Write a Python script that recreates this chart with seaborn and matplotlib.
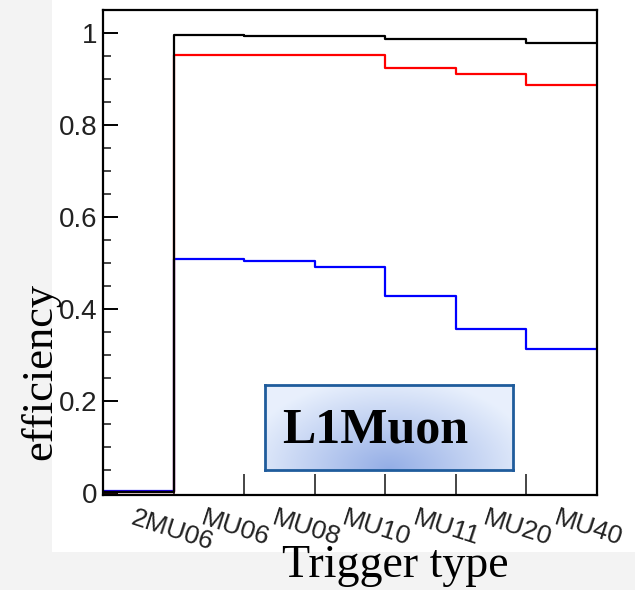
import numpy as np
import pandas as pd
import matplotlib
matplotlib.use("Agg")
import matplotlib.pyplot as plt
import matplotlib.transforms as mtrans
import seaborn as sns
from matplotlib.patches import Rectangle

# ---- data ----
triggers = ["2MU06", "MU06", "MU08", "MU10", "MU11", "MU20", "MU40"]
eff_black = [0.002, 0.996, 0.993, 0.993, 0.987, 0.987, 0.978]
eff_red = [0.003, 0.953, 0.953, 0.953, 0.925, 0.912, 0.887]
eff_blue = [0.005, 0.509, 0.504, 0.491, 0.428, 0.357, 0.313]
series_names = ["blue", "red", "black"]
series_colors = {"blue": "#0000ff", "red": "#ff0000", "black": "#000000"}

# build step table (bin edges, last value repeated)
rows = []
for name, vals in zip(series_names, [eff_blue, eff_red, eff_black]):
    for i in range(len(vals) + 1):
        rows.append({"edge": i, "eff": vals[min(i, len(vals) - 1)], "series": name})
df = pd.DataFrame(rows)

sns.set_theme(style="white")
plt.rcParams["font.family"] = ["Liberation Sans", "DejaVu Sans"]

fig = plt.figure(figsize=(6.35, 5.9), dpi=100)
fig.patch.set_facecolor("#f3f3f3")
fig.patches.append(Rectangle((52 / 635, 1 - 552 / 590), 1 - 52 / 635, 552 / 590,
                             transform=fig.transFigure, facecolor="white",
                             edgecolor="none", zorder=-10))

ax = fig.add_axes([103 / 635, 1 - 495 / 590, 494 / 635, 485 / 590])
ax.set_facecolor("white")
sns.lineplot(data=df, x="edge", y="eff", hue="series", hue_order=series_names,
             palette=series_colors, drawstyle="steps-post", linewidth=1.6,
             legend=False, ax=ax, estimator=None, sort=False)

ax.set_xlim(0, len(triggers))
ax.set_ylim(-0.004, 1.05)
for s in ax.spines.values():
    s.set_color("black")
    s.set_linewidth(1.6)

# y ticks
ax.set_yticks([0, 0.2, 0.4, 0.6, 0.8, 1.0])
ax.set_yticklabels(["0", "0.2", "0.4", "0.6", "0.8", "1"])
ax.set_yticks(np.arange(0, 1.0001, 0.05), minor=True)
ax.tick_params(axis="y", which="major", direction="in", length=11, width=1.4,
               labelsize=20, pad=4, left=True, right=False, colors="black")
ax.tick_params(axis="y", which="minor", direction="in", length=6, width=1.2,
               left=True, right=False)
for t in ax.get_yticklabels():
    t.set_color("#222222")

# x ticks: major at bin edges (no labels), minor at centers (labels)
ax.set_xticks(range(1, len(triggers)))
ax.set_xticklabels([])
ax.tick_params(axis="x", which="major", direction="in", length=15, width=1.2,
               bottom=True, top=False)
ax.set_xticks(np.arange(len(triggers)) + 0.5, minor=True)
ax.set_xticklabels(triggers, minor=True)
ax.tick_params(axis="x", which="minor", length=0, pad=8, labelsize=19)
offset = mtrans.ScaledTranslation(-3 / 100, 0, fig.dpi_scale_trans)
for t in ax.get_xticklabels(minor=True):
    t.set_rotation(-18)
    t.set_ha("left")
    t.set_va("top")
    t.set_rotation_mode("anchor")
    t.set_color("#222222")
    t.set_transform(t.get_transform() + offset)

# axis titles
ax.set_xlabel("Trigger type", fontsize=33, family="Liberation Serif", color="black")
ax.xaxis.set_label_coords((395 - 103) / 494, (495 - 577) / 485)
ax.xaxis.label.set_va("baseline")
ax.set_ylabel("efficiency", fontsize=32, family="Liberation Serif", color="black")
ax.yaxis.set_label_coords((40 - 103) / 494, (495 - 372) / 485)
ax.yaxis.label.set_va("center")

# L1Muon gradient box
bax = fig.add_axes([265 / 635, 1 - 470 / 590, 248 / 635, 85 / 590])
gx, gy = np.meshgrid(np.linspace(0, 1, 200), np.linspace(0, 1, 80))
d = np.clip(np.sqrt(((gx - 0.5) / 0.6) ** 2 + (gy / 1.1) ** 2), 0, 1)
c_center = np.array([0.58, 0.68, 0.90])
c_edge = np.array([0.91, 0.94, 0.99])
img = c_center[None, None, :] * (1 - d[..., None]) + c_edge[None, None, :] * d[..., None]
bax.imshow(img, origin="lower", extent=[0, 1, 0, 1], aspect="auto")
bax.set_xlim(0, 1)
bax.set_ylim(0, 1)
bax.set_xticks([])
bax.set_yticks([])
for s in bax.spines.values():
    s.set_color("#1f5c9c")
    s.set_linewidth(2)
    s.set_visible(True)
bax.text(0.07, 0.47, "L1Muon", fontsize=36, fontweight="bold",
         family="Liberation Serif", ha="left", va="center", color="black",
         transform=bax.transAxes)

fig.savefig("out.png", dpi=100)
